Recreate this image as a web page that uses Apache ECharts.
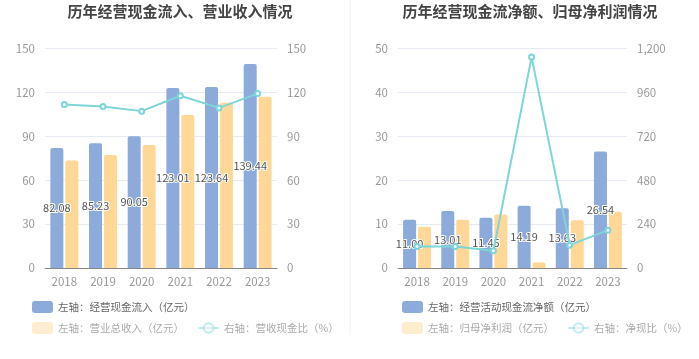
<!DOCTYPE html>
<html><head><meta charset="utf-8">
<script src="https://cdn.jsdelivr.net/npm/echarts@6/dist/echarts.min.js"></script>
<style>html,body{margin:0;padding:0;background:#fff}#c{width:699px;height:359px}</style>
</head><body><div id="c"></div>
<script>
const years = ['2018','2019','2020','2021','2022','2023'];
const cashInflow = [82.08, 85.23, 90.05, 123.01, 123.64, 139.44];
const revenue = [73.5, 77.3, 84.0, 104.5, 113.0, 117.0];
const cashRevRatio = [111.7, 110.3, 107.2, 117.7, 109.4, 119.2];
const netCashFlow = [11.00, 13.01, 11.45, 14.19, 13.63, 26.54];
const netProfit = [9.4, 11.0, 12.2, 1.23, 10.9, 12.8];
const netCashRatio = [117, 118, 94, 1153, 125, 207];
const leftTicks = {min:0, max:150, interval:30};
const rightTicksL = {min:0, max:150, interval:30};
const leftTicksR = {min:0, max:50, interval:10};
const rightTicksR = {min:0, max:1200, interval:240};

const BLUE = '#8cabda', YEL = '#ffd897', LINE = '#7dd5d8';
const font = '"Noto Sans CJK SC", sans-serif';
const axisLbl = {color:'#999', fontSize:11.5, fontFamily:font};
function xAx(gi){return {type:'category', gridIndex:gi, data:years,
  axisLine:{lineStyle:{color:'#888'}}, axisTick:{alignWithLabel:true, lineStyle:{color:'#888'}},
  axisLabel:Object.assign({margin:8}, axisLbl)};}
function yAx(gi, t, pos, split){return Object.assign({type:'value', gridIndex:gi, position:pos,
  axisLine:{show:false}, axisTick:{show:false},
  splitLine:{show:split, lineStyle:{color:'#e6eaf3'}},
  axisLabel:Object.assign({margin:10}, axisLbl)}, t);}
const barLabel = {show:true, position:'inside', color:'#555', fontSize:11, fontFamily:font, textBorderColor:'#fff', textBorderWidth:2,
  formatter:p=>p.value.toFixed(2)};
const lgText1 = {fontSize:10.5, color:'#666', fontFamily:font};
const lgText2 = {fontSize:10.5, color:'#aaa', fontFamily:font};
const chart = echarts.init(document.getElementById('c'));
chart.setOption({
  animation:false,
  title:[
    {text:'历年经营现金流入、营业收入情况', left:175, top:-1, textAlign:'center', textStyle:{fontSize:15, fontWeight:'bold', color:'#444', fontFamily:font}},
    {text:'历年经营现金流净额、归母净利润情况', left:525, top:-1, textAlign:'center', textStyle:{fontSize:15, fontWeight:'bold', color:'#444', fontFamily:font}}
  ],
  graphic:[{type:'line', shape:{x1:350,y1:0,x2:350,y2:335}, style:{stroke:'#eee', lineWidth:1}}],
  grid:[{left:45, top:48.5, width:232, height:219.5},{left:398, top:48.5, width:229, height:219.5}],
  xAxis:[xAx(0), xAx(1)],
  yAxis:[yAx(0,leftTicks,'left',true), yAx(0,rightTicksL,'right',false), yAx(1,leftTicksR,'left',true), yAx(1,rightTicksR,'right',false)],
  legend:[
    {left:27, top:296, width:320, itemWidth:21, itemHeight:12, itemGap:13, textStyle:lgText1,
     data:[{name:'左轴：经营现金流入（亿元）'}]},
    {left:27, top:317, width:320, itemWidth:21, itemHeight:12, itemGap:13, textStyle:lgText2,
     data:[{name:'左轴：营业总收入（亿元）', itemStyle:{opacity:0.45}}, {name:'右轴：营收现金比（%）', itemStyle:{opacity:0.45}, lineStyle:{opacity:0.45}}]},
    {left:397, top:296, width:300, itemWidth:21, itemHeight:12, itemGap:13, textStyle:lgText1,
     data:[{name:'左轴：经营活动现金流净额（亿元）'}]},
    {left:397, top:317, width:300, itemWidth:21, itemHeight:12, itemGap:13, textStyle:lgText2,
     data:[{name:'左轴：归母净利润（亿元）', itemStyle:{opacity:0.45}}, {name:'右轴：净现比（%）', itemStyle:{opacity:0.45}, lineStyle:{opacity:0.45}}]}
  ],
  series:[
    {name:'左轴：经营现金流入（亿元）', type:'bar', xAxisIndex:0, yAxisIndex:0, data:cashInflow, barWidth:13, barGap:'15%', itemStyle:{color:BLUE, borderRadius:[2,2,0,0]}, label:barLabel, z:2},
    {name:'左轴：营业总收入（亿元）', type:'bar', xAxisIndex:0, yAxisIndex:0, data:revenue, barWidth:13, barGap:'15%', itemStyle:{color:YEL, borderRadius:[2,2,0,0]}, z:2},
    {name:'右轴：营收现金比（%）', type:'line', xAxisIndex:0, yAxisIndex:1, data:cashRevRatio, symbol:'emptyCircle', symbolSize:5, lineStyle:{color:LINE, width:2}, itemStyle:{color:LINE}, z:3},
    {name:'左轴：经营活动现金流净额（亿元）', type:'bar', xAxisIndex:1, yAxisIndex:2, data:netCashFlow, barWidth:13, barGap:'15%', itemStyle:{color:BLUE, borderRadius:[2,2,0,0]}, label:barLabel, z:2},
    {name:'左轴：归母净利润（亿元）', type:'bar', xAxisIndex:1, yAxisIndex:2, data:netProfit, barWidth:13, barGap:'15%', itemStyle:{color:YEL, borderRadius:[2,2,0,0]}, z:2},
    {name:'右轴：净现比（%）', type:'line', xAxisIndex:1, yAxisIndex:3, data:netCashRatio, symbol:'emptyCircle', symbolSize:5, lineStyle:{color:LINE, width:2}, itemStyle:{color:LINE}, z:3}
  ]
});
</script></body></html>
